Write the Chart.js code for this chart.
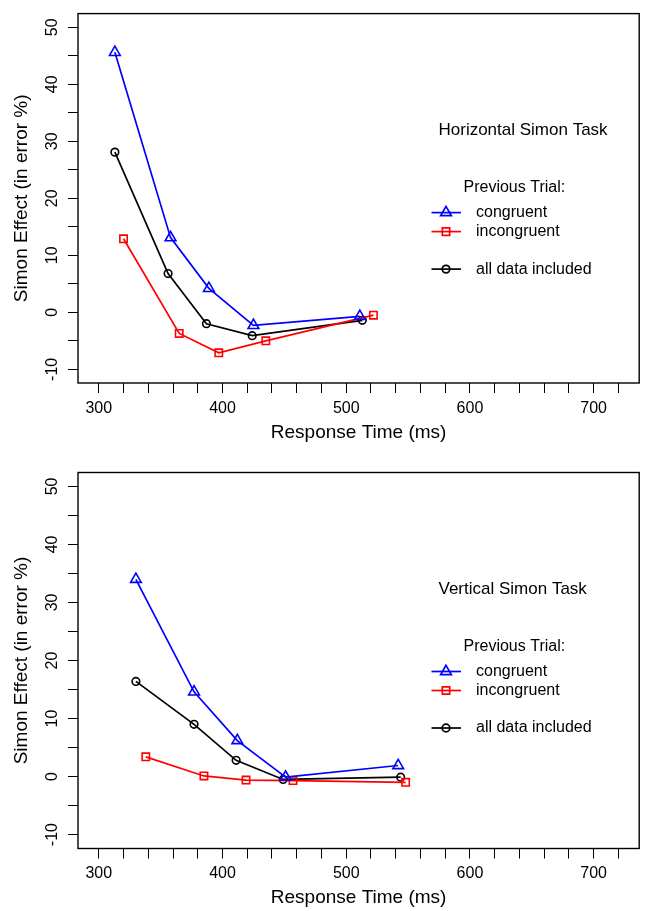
<!DOCTYPE html>
<html>
<head>
<meta charset="utf-8">
<script src="https://cdn.jsdelivr.net/npm/chart.js@4.4.0/dist/chart.umd.min.js"></script>
<style>
  html, body { margin: 0; padding: 0; background: #fff; }
  canvas { display: block; }
</style>
</head>
<body>
<canvas id="horizChart" width="647" height="455"></canvas>
<canvas id="vertChart" width="647" height="456"></canvas>
<script>
// DATA
let seriesLabels = ["congruent", "incongruent", "all data included"];
let seriesColors = ["#0000ff", "#ff0000", "#000000"];
let seriesMarkers = ["triangle", "rect", "circle"];
let markerSizes = [6.2, 5.2, 3.8];

// Horizontal Simon Task: response time (ms) / Simon effect (error %)
let hCongRT = [313, 358, 389, 425, 511];
let hCongErr = [45.6, 13.1, 4.2, -2.3, -0.7];
let hIncRT = [320, 365, 397, 435, 522];
let hIncErr = [12.9, -3.7, -7.1, -5.0, -0.5];
let hAllRT = [313, 356, 387, 424, 513];
let hAllErr = [28.1, 6.8, -2.0, -4.1, -1.4];

// Vertical Simon Task
let vCongRT = [330, 377, 412, 451, 542];
let vCongErr = [34.0, 14.6, 6.2, -0.1, 1.9];
let vIncRT = [338, 385, 419, 457, 548];
let vIncErr = [3.4, 0.1, -0.6, -0.7, -1.0];
let vAllRT = [330, 377, 411, 449, 544];
let vAllErr = [16.4, 9.0, 2.8, -0.5, -0.1];

// AXES
let xMin = 283.2, xMax = 736.8, xStep = 20, xLabelEvery = 100;
let yMin = -12.4, yMax = 52.4, yStep = 5, yLabelEvery = 10;

const FONT = "'Liberation Sans', Arial, Helvetica, sans-serif";

function toPoints(xs, ys) {
    return xs.map((x, i) => ({ x: x, y: ys[i] }));
}

// box + in-plot text / legend
const panelDecor = {
    id: "panelDecor",
    afterDraw(chart, args, opts) {
        const ctx = chart.ctx;
        const a = chart.chartArea;
        ctx.save();
        ctx.strokeStyle = "#000";
        ctx.lineWidth = 1.4;
        ctx.strokeRect(a.left, a.top, a.right - a.left, a.bottom - a.top);

        ctx.fillStyle = "#000";
        ctx.textBaseline = "middle";
        ctx.textAlign = "left";
        ctx.font = "17px " + FONT;
        ctx.fillText(opts.title, a.left + 360.5, a.top + 117);
        ctx.font = "16px " + FONT;
        ctx.fillText("Previous Trial:", a.left + 385.5, a.top + 174);

        let rows = [199, 218, 255.5];
        chart.data.datasets.forEach((ds, i) => {
            let y = a.top + rows[i];
            ctx.strokeStyle = ds.borderColor;
            ctx.lineWidth = ds.borderWidth;
            ctx.beginPath();
            ctx.moveTo(a.left + 353.5, y);
            ctx.lineTo(a.left + 383, y);
            ctx.stroke();
            ctx.fillStyle = "rgba(0,0,0,0)";
            Chart.helpers.drawPoint(ctx, {
                pointStyle: ds.pointStyle,
                radius: ds.pointRadius,
                borderWidth: ds.borderWidth,
                rotation: 0
            }, a.left + 368, y);
            ctx.fillStyle = "#000";
            ctx.fillText(ds.label, a.left + 398, y);
        });
        ctx.restore();
    }
};

function makeChart(id, title, xs, ys, padTop, xAxisHeight, xTitlePad) {
    let datasets = seriesLabels.map((lab, i) => ({
        label: lab,
        data: toPoints(xs[i], ys[i]),
        borderColor: seriesColors[i],
        backgroundColor: "rgba(0,0,0,0)",
        pointBorderColor: seriesColors[i],
        pointBackgroundColor: "rgba(0,0,0,0)",
        pointStyle: seriesMarkers[i],
        pointRadius: markerSizes[i],
        borderWidth: 1.7,
        pointBorderWidth: 1.6,
        tension: 0,
        fill: false
    }));

    return new Chart(document.getElementById(id), {
        type: "line",
        data: { datasets },
        options: {
            responsive: false,
            animation: false,
            layout: { padding: { top: padTop, right: 7, left: 0, bottom: 0 } },
            plugins: {
                legend: { display: false },
                tooltip: { enabled: false },
                panelDecor: { title: title }
            },
            scales: {
                x: {
                    type: "linear",
                    min: xMin,
                    max: xMax,
                    afterFit: s => { s.height = xAxisHeight; },
                    border: { display: false },
                    grid: { drawOnChartArea: false, drawTicks: true, tickLength: 10, color: "#000", lineWidth: 1 },
                    ticks: {
                        stepSize: xStep,
                        includeBounds: false,
                        autoSkip: false,
                        maxRotation: 0,
                        padding: 5.5,
                        color: "#000",
                        font: { family: FONT, size: 16 },
                        callback: v => (v % xLabelEvery === 0 ? String(v) : "")
                    },
                    title: {
                        display: true,
                        text: "Response Time (ms)",
                        color: "#000",
                        font: { family: FONT, size: 19 },
                        padding: { top: 0, bottom: xTitlePad }
                    }
                },
                y: {
                    type: "linear",
                    min: yMin,
                    max: yMax,
                    afterFit: s => { s.width = 78; },
                    border: { display: false },
                    grid: { drawOnChartArea: false, drawTicks: true, tickLength: 10, color: "#000", lineWidth: 1 },
                    ticks: {
                        stepSize: yStep,
                        includeBounds: false,
                        autoSkip: false,
                        minRotation: 90,
                        maxRotation: 90,
                        crossAlign: "center",
                        padding: 4,
                        color: "#000",
                        font: { family: FONT, size: 16 },
                        callback: v => (v % yLabelEvery === 0 ? String(v) : "")
                    },
                    title: {
                        display: true,
                        text: "Simon Effect (in error %)",
                        color: "#000",
                        font: { family: FONT, size: 19 },
                        padding: { top: 10, bottom: 0 }
                    }
                }
            }
        },
        plugins: [panelDecor]
    });
}

makeChart("horizChart", "Horizontal Simon Task",
    [hCongRT, hIncRT, hAllRT], [hCongErr, hIncErr, hAllErr], 7, 72, 10.6);
makeChart("vertChart", "Vertical Simon Task",
    [vCongRT, vIncRT, vAllRT], [vCongErr, vIncErr, vAllErr], 17.5, 62.5, 1.6);
</script>
</body>
</html>
